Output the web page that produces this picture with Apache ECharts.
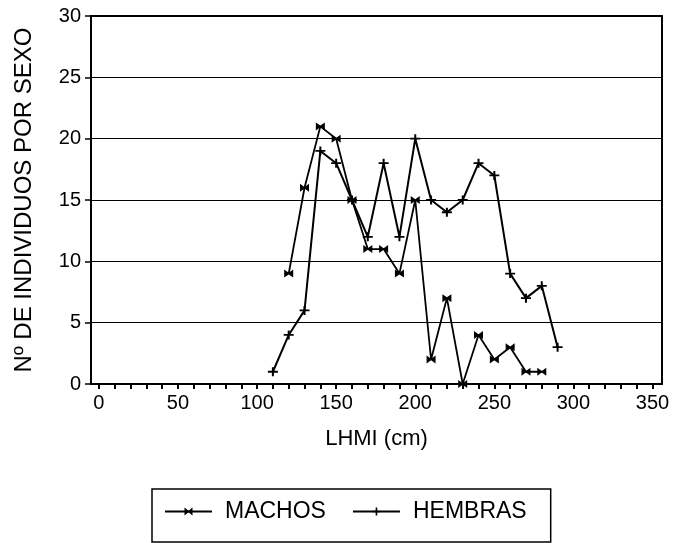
<!DOCTYPE html>
<html>
<head>
<meta charset="utf-8">
<script src="https://cdn.jsdelivr.net/npm/echarts@6/dist/echarts.min.js"></script>
<style>
  html, body { margin: 0; padding: 0; background: #fff; }
  #chart { width: 673px; height: 543px; }
</style>
</head>
<body>
<div id="chart"></div>
<script>
// LHMI (cm) de cada clase y nº de individuos
const lhmiMachos = [120, 130, 140, 150, 160, 170, 180, 190, 200, 210, 220, 230, 240, 250, 260, 270, 280]
const machos = [9, 16, 21, 20, 15, 11, 11, 9, 15, 2, 7, 0, 4, 2, 3, 1, 1]

const lhmiHembras = [110, 120, 130, 140, 150, 160, 170, 180, 190, 200, 210, 220, 230, 240, 250, 260, 270, 280, 290]
const hembras = [1, 4, 6, 19, 18, 15, 12, 18, 12, 20, 15, 14, 15, 18, 17, 9, 7, 8, 3]

const xLabels = [0, 50, 100, 150, 200, 250, 300, 350]
const xTicks = []
for (let v = 0; v <= 350; v += 10) xTicks.push(v)

const FONT = '"Liberation Sans", Arial, sans-serif'

// marcadores
const symMachos = 'path://M0,0L5,4L10,0L10,10L5,6L0,10Z'
const symHembras = 'path://M4,0H6V4H10V6H6V10H4V6H0V4H4Z'

function pairs(xs, ys) {
  return xs.map((x, i) => [x, ys[i]])
}

const chart = echarts.init(document.getElementById('chart'))

chart.setOption({
  animation: false,
  textStyle: { fontFamily: FONT, color: '#000' },
  grid: {
    left: 91,
    right: 11,
    top: 16,
    bottom: 159,
    show: true,
    borderColor: '#000',
    borderWidth: 2
  },
  legend: {
    left: 152,
    top: 489,
    padding: [11, 24, 19, 12],
    borderColor: '#000',
    borderWidth: 1.5,
    itemWidth: 47,
    itemHeight: 10,
    itemGap: 26,
    textStyle: { fontSize: 23, color: '#000', fontFamily: FONT, padding: [0, 0, 0, 8] },
    data: ['MACHOS', 'HEMBRAS']
  },
  xAxis: {
    type: 'value',
    min: -5,
    max: 356,
    name: 'LHMI (cm)',
    nameLocation: 'middle',
    nameGap: 44,
    nameTextStyle: { fontSize: 22, color: '#000', fontFamily: FONT },
    axisLine: { onZero: false, lineStyle: { color: '#000', width: 2 } },
    axisTick: {
      customValues: xTicks,
      length: 5,
      lineStyle: { color: '#000', width: 2 }
    },
    axisLabel: {
      customValues: xLabels,
      fontSize: 20,
      color: '#000',
      margin: 9,
      fontFamily: FONT
    },
    splitLine: { show: false }
  },
  yAxis: {
    type: 'value',
    min: 0,
    max: 30,
    interval: 5,
    name: 'Nº DE INDIVIDUOS POR SEXO',
    nameLocation: 'middle',
    nameGap: 55,
    nameTextStyle: { fontSize: 24, color: '#000', fontFamily: FONT },
    axisLine: { show: true, onZero: false, lineStyle: { color: '#000', width: 2 } },
    axisTick: { show: true, length: 6, lineStyle: { color: '#000', width: 1.5 } },
    axisLabel: { fontSize: 20, color: '#000', margin: 10, fontFamily: FONT },
    splitLine: { show: true, lineStyle: { color: '#000', width: 1.2 } }
  },
  series: [
    {
      name: 'MACHOS',
      type: 'line',
      data: pairs(lhmiMachos, machos),
      symbol: symMachos,
      symbolSize: [9, 8],
      lineStyle: { color: '#000', width: 1.8 },
      itemStyle: { color: '#000' }
    },
    {
      name: 'HEMBRAS',
      type: 'line',
      data: pairs(lhmiHembras, hembras),
      symbol: symHembras,
      symbolSize: [10, 9],
      lineStyle: { color: '#000', width: 2 },
      itemStyle: { color: '#000' }
    }
  ]
})

window.addEventListener('resize', () => chart.resize())
</script>
</body>
</html>
